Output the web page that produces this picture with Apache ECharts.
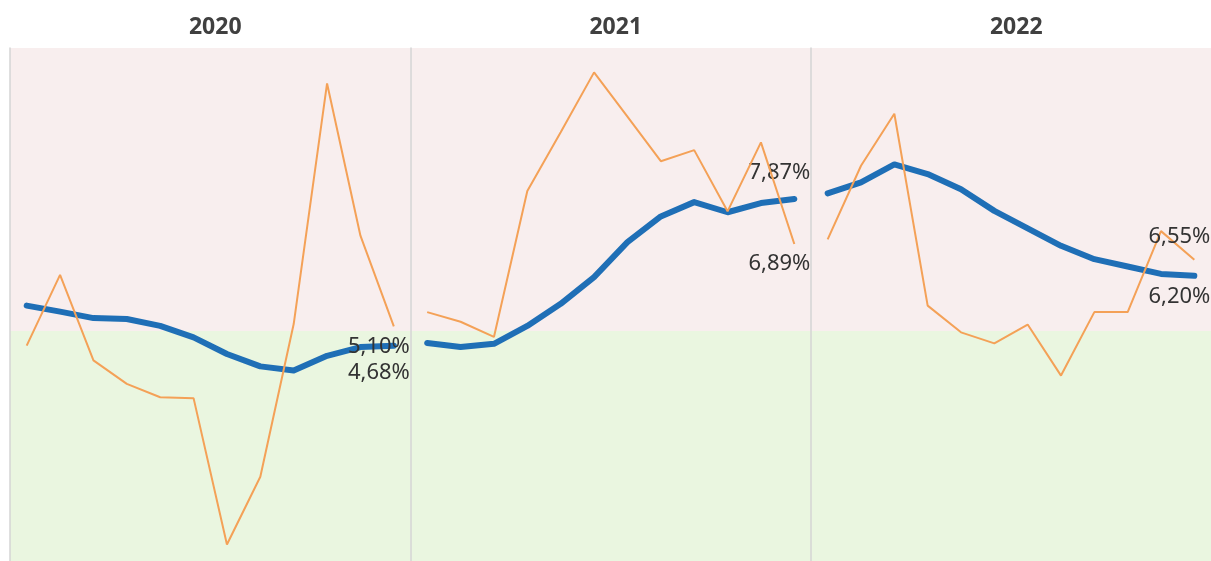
<!DOCTYPE html>
<html>
<head>
<meta charset="utf-8">
<script src="https://cdn.jsdelivr.net/npm/echarts@6/dist/echarts.min.js"></script>
<style>
html,body{margin:0;padding:0;background:#fff;}
#chart{width:1211px;height:561px;}
</style>
</head>
<body>
<div id="chart"></div>
<script>
// ---- data ----
const years = ['2020', '2021', '2022'];
const months = ['Jan','Feb','Mar','Apr','May','Jun','Jul','Aug','Sep','Oct','Nov','Dec'];
const threshold = 5;
const yMin = 0;
const yMax = 11.15;

const avg2020 = [5.55, 5.42, 5.28, 5.26, 5.11, 4.86, 4.50, 4.23, 4.14, 4.46, 4.65, 4.68];
const avg2021 = [4.74, 4.65, 4.72, 5.11, 5.59, 6.17, 6.93, 7.49, 7.80, 7.58, 7.78, 7.87];
const avg2022 = [7.99, 8.23, 8.62, 8.41, 8.08, 7.61, 7.23, 6.85, 6.56, 6.40, 6.24, 6.20];

const monthly2020 = [4.68, 6.22, 4.36, 3.85, 3.56, 3.54, 0.36, 1.83, 5.15, 10.38, 7.07, 5.10];
const monthly2021 = [5.41, 5.20, 4.87, 8.04, 9.32, 10.62, 9.66, 8.69, 8.93, 7.60, 9.10, 6.89];
const monthly2022 = [6.99, 8.59, 9.72, 5.55, 4.97, 4.73, 5.14, 4.03, 5.41, 5.41, 7.17, 6.55];

const avgByYear = [avg2020, avg2021, avg2022];
const monthlyByYear = [monthly2020, monthly2021, monthly2022];

// ---- styling / layout ----
const panelLeft = 10, panelWidth = 400.5, gridTop = 48, gridHeight = 513;
const blueColor = '#1f6fb6';
const orangeColor = '#f4a157';
const pinkBg = '#f8eeee';
const greenBg = '#eaf6e0';
// vertical offsets of end labels (avg, monthly) for each panel
const labelDy = [[27, 20], [-26, 20], [21, -23]];

const fmt = v => v.toFixed(2).replace('.', ',') + '%';

function withEndLabel(arr, dy) {
  return arr.map((v, j) => j === arr.length - 1 ? {
    value: v,
    label: {
      show: true, position: 'right', distance: 0, align: 'right', verticalAlign: 'middle',
      offset: [16, dy], formatter: p => fmt(p.value),
      fontSize: 22, color: '#333333', fontFamily: '"Segoe UI","Noto Sans",sans-serif'
    }
  } : v);
}

const grid = [], xAxis = [], yAxis = [], title = [], series = [];
years.forEach((yr, i) => {
  const left = panelLeft + panelWidth * i;
  grid.push({ left: left, top: gridTop, width: panelWidth, height: gridHeight });
  title.push({
    text: yr, left: left + panelWidth / 2, top: 11, textAlign: 'center',
    textStyle: { fontSize: 23, fontWeight: 'bold', color: '#404040', fontFamily: '"Segoe UI","Noto Sans",sans-serif' }
  });
  xAxis.push({
    type: 'category', gridIndex: i, data: months, boundaryGap: true,
    axisLine: { show: false }, axisTick: { show: false }, axisLabel: { show: false }, splitLine: { show: false }
  });
  yAxis.push({
    type: 'value', gridIndex: i, min: yMin, max: yMax, z: 10,
    axisLine: { show: true, lineStyle: { color: '#d4d4d4', width: 1.5 } },
    axisTick: { show: false }, axisLabel: { show: false }, splitLine: { show: false }
  });
  series.push({
    type: 'line', xAxisIndex: i, yAxisIndex: i, z: 2,
    data: withEndLabel(avgByYear[i], labelDy[i][0]),
    symbol: 'circle', symbolSize: 0.1, showSymbol: true,
    itemStyle: { color: blueColor },
    lineStyle: { color: blueColor, width: 6, cap: 'round', join: 'round' },
    emphasis: { disabled: true },
    markArea: {
      silent: true, z: 1,
      data: [
        [{ yAxis: threshold, itemStyle: { color: pinkBg } }, { yAxis: yMax }],
        [{ yAxis: yMin, itemStyle: { color: greenBg } }, { yAxis: threshold }]
      ]
    }
  });
  series.push({
    type: 'line', xAxisIndex: i, yAxisIndex: i, z: 3,
    data: withEndLabel(monthlyByYear[i], labelDy[i][1]),
    symbol: 'circle', symbolSize: 0.1, showSymbol: true,
    itemStyle: { color: orangeColor },
    lineStyle: { color: orangeColor, width: 2 },
    emphasis: { disabled: true }
  });
});

const chart = echarts.init(document.getElementById('chart'));
chart.setOption({
  animation: false,
  backgroundColor: '#ffffff',
  title, grid, xAxis, yAxis, series
});
</script>
</body>
</html>
